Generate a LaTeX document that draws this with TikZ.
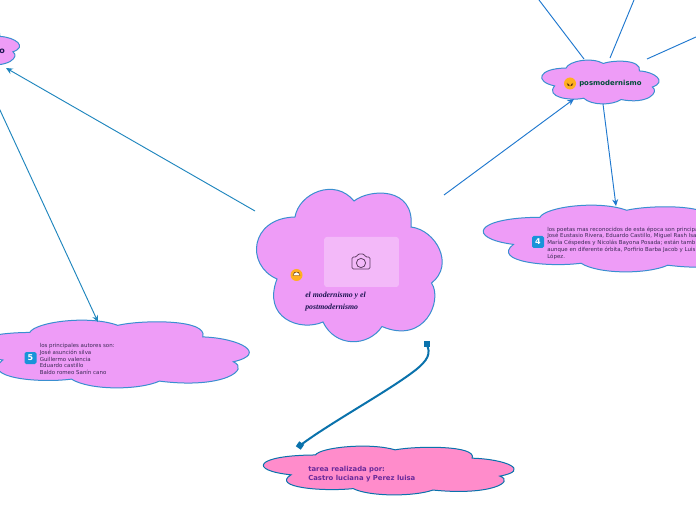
\documentclass[tikz,border=0pt]{standalone}
\usepackage{fontspec}
\setmainfont{DejaVu Sans}
\newfontfamily\handfont{Liberation Serif}
\usetikzlibrary{arrows.meta}
\definecolor{lilac}{HTML}{EE9CF7}
\definecolor{rosa}{HTML}{FF8CCB}
\definecolor{edgeblue}{HTML}{3A8FD0}
\definecolor{linkblue}{HTML}{1F78CF}
\definecolor{linkteal}{HTML}{1F86BE}
\definecolor{deepblue}{HTML}{0A72AC}
\definecolor{bodyink}{HTML}{3B2A55}
\definecolor{tareaink}{HTML}{6A2A9A}
\definecolor{handink}{HTML}{1A1450}
\definecolor{faceorange}{HTML}{FFB020}
\definecolor{faceink}{HTML}{6B3A10}
\tikzset{
  blob/.style={draw=edgeblue,fill=lilac,line width=.75pt},
  pinkblob/.style={draw=deepblue,fill=rosa,line width=.75pt},
  link/.style={draw=linkblue,line width=.7pt},
  tealink/.style={draw=linkteal,line width=.7pt},
  tip/.style={-{Stealth[length=5pt,width=4.5pt]}},
  body/.style={anchor=west,align=left,inner sep=0pt,text=bodyink,font=\fontsize{4.1pt}{5.05pt}\selectfont},
  badge/.style={fill=#1,rounded corners=1.2pt,minimum size=9pt,inner sep=0pt,text=white,font=\fontsize{6pt}{6pt}\selectfont\bfseries},
  face/.style={circle,fill=#1,minimum size=9pt,inner sep=0pt},
}
\newcommand{\cloudblob}[5]{%
  \begin{scope}[shift={(#1,#2)},xscale=#3/92.5,yscale=#4/76.5]
    \path[#5] (-54.5,-48.5) .. controls (-50.5,-72.5) and (-14.5,-88) .. (4.5,-64.5)
      .. controls (20.5,-77) and (65.5,-79) .. (61.5,-38.5)
      .. controls (86.5,-35.5) and (105.5,-0.5) .. (82,17.5)
      .. controls (93.5,34.5) and (75.5,79.5) .. (32.5,61)
      .. controls (18.5,82) and (-14.5,82) .. (-26.5,56.5)
      .. controls (-49.5,66.5) and (-87.5,52.5) .. (-72.5,13.5)
      .. controls (-104.5,-0.5) and (-99.5,-47.5) .. (-54.5,-48.5) -- cycle;
  \end{scope}}
\begin{document}
\begin{tikzpicture}[x=.75pt,y=-.75pt]
\useasboundingbox (0,0) rectangle (696,520);
\fill[white] (0,0) rectangle (696,520);
\begin{scope}
\clip (0,0) rectangle (696,520);
% clouds
\cloudblob{349.5}{265.5}{92.5}{76.5}{blob}
\cloudblob{600.5}{82}{58.5}{22}{blob}
\cloudblob{620}{238.5}{136}{33.5}{blob}
\cloudblob{111}{354}{138}{34}{blob}
\cloudblob{389}{470.5}{125}{24.5}{pinkblob}
\cloudblob{-39}{47}{58.5}{21}{blob}
% picture placeholder
\node[fill=white,fill opacity=.3,rounded corners=2pt,minimum width=56pt,minimum height=37.5pt,inner sep=0pt] (photo) at (361.5,262) {};
\begin{scope}[shift={(361,262)}]
  \draw[black!60!lilac,line width=.6pt,rounded corners=1pt,line join=round]
    (-9,-5) -- (-4.5,-5) -- (-3,-8) -- (3,-8) -- (4.5,-5) -- (9,-5) -- (9,7) -- (-9,7) -- cycle;
  \draw[black!60!lilac,line width=.6pt] (0,1) circle (4.6);
\end{scope}
% main texts
\node[anchor=west,align=left,inner sep=0pt,text=handink,font=\handfont\bfseries\itshape\fontsize{5.85pt}{8.7pt}\selectfont] (maintext) at (305,301.5) {el modernismo y el\\postmodernismo};
\node[face=faceorange] (mainface) at (296.5,275) {};
\fill[white,draw=faceink,line width=.3pt] (293,275.5) -- (300,275.5) arc (0:-180:3.5) -- cycle;
\fill[faceink] (294.7,272.8) circle (.7) (298.3,272.8) circle (.7);
%
\node[face=faceorange] (posface) at (570,83.5) {};
\fill[faceink] (567.8,84) rectangle (569,86) (571,84) rectangle (572.2,86);
\draw[faceink,line width=.35pt] (567,83) arc (180:0:3);
\node[anchor=west,inner sep=0pt,text=black!70!blue!70!green,font=\bfseries\fontsize{5.2pt}{6pt}\selectfont] (postext) at (579,83.5) {posmodernismo};
%
\node[anchor=center,inner sep=0pt,text=handink,font=\bfseries\fontsize{6pt}{6pt}\selectfont] (modtext) at (2,51) {o};
%
\node[badge={linkblue!80!cyan}] (four) at (538,242) {4};
\node[body] (fourtext) at (547,243) {los poetas mas reconocidos de esta época son principa\\José Eustasio Rivera, Eduardo Castillo, Miguel Rash Isa\\María Céspedes y Nicolás Bayona Posada; están tamb\\aunque en diferente órbita, Porfirio Barba Jacob y Luis\\López.};
\node[badge={linkblue!80!cyan}] (five) at (30.5,358) {5};
\node[body] (fivetext) at (39.5,359) {los principales autores son:\\José  asunción silva\\Guillermo valencia\\Eduardo castillo\\Baldo romeo Sanín cano};
\node[anchor=west,align=left,inner sep=0pt,text=tareaink,font=\bfseries\fontsize{5.15pt}{6.75pt}\selectfont] (tareatext) at (308,474) {tarea realizada por:\\Castro luciana y Perez luisa};
% connector ends
\coordinate (m1) at (255,211);
\coordinate (tl) at (6,68);
\coordinate (tl2) at (-1,108);
\coordinate (five in) at (98,322);
\coordinate (m2) at (444,195);
\coordinate (pos in) at (574,99);
\coordinate (pos out) at (603,104);
\coordinate (four in) at (616,206);
\coordinate (p1) at (584,59);
\coordinate (p1e) at (539,0);
\coordinate (p2) at (610,58);
\coordinate (p2e) at (634,0);
\coordinate (p3) at (647,59);
\coordinate (p3e) at (696,37);
\coordinate (b1) at (426.5,344);
\coordinate (b2) at (300,445.5);
\draw[tealink,tip] (m1) -- (tl);
\draw[tealink,tip] (tl2) -- (five in);
\draw[link,tip] (m2) -- (pos in);
\draw[link,tip] (pos out) -- (four in);
\draw[link] (p1) -- (p1e);
\draw[link] (p2) -- (p2e);
\draw[link] (p3) -- (p3e);
\draw[draw=deepblue,line width=1.5pt] (b1) .. controls (431,353) and (429,360) .. (413,372) .. controls (385,393) and (330,423) .. (b2);
\fill[deepblue] (b1) ++(-3,-3) rectangle ++(6,6);
\fill[deepblue,rotate around={-35:(b2)}] (b2) ++(-3,-3) rectangle ++(6,6);
\end{scope}
\end{tikzpicture}
\end{document}
